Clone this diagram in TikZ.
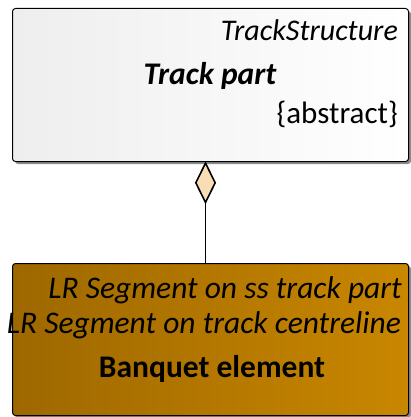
\documentclass[tikz,border=0pt]{standalone}
\usepackage{fontspec}
\setmainfont{Carlito}
\usetikzlibrary{shapes.geometric,shadows}

\definecolor{hellgrau}{HTML}{EEEEEE}
\definecolor{braundunkel}{HTML}{9E6800}
\definecolor{braunhell}{HTML}{C98700}
\definecolor{rautenfarbe}{HTML}{F9DDB4}

\tikzset{
    klasse/.style={draw, line width=1pt, rounded corners=3pt, anchor=north west, inner sep=0pt,
        drop shadow={shadow xshift=2.5pt, shadow yshift=-2.5pt, fill=black!45, opacity=1}},
    schrift/.style={anchor=base east, inner sep=0pt, font=\fontsize{31}{36}\selectfont}
}

\begin{document}
\begin{tikzpicture}[x=1pt,y=-1pt]
        \useasboundingbox (0,0) rectangle (410,417);
        \coordinate (ecke) at (12,8);
        \coordinate (eckeunten) at (12,263);

        % Klassen
        \node [klasse, left color=hellgrau, right color=white, minimum width=396pt, minimum height=153pt] (trackpart) at (ecke) {};
        \node [klasse, left color=braundunkel, right color=braunhell, minimum width=396pt, minimum height=152pt] (banquet) at (eckeunten) {};

        % Texte oben
        \node [schrift, font=\fontsize{30}{36}\selectfont\itshape] (paket) at (398,41) {TrackStructure};
        \node [schrift, anchor=base, font=\fontsize{31.5}{36}\selectfont\bfseries\itshape] (name) at (210,85) {Track part};
        \node [schrift] (abstrakt) at (398,123) {\{abstract\}};

        % Texte unten
        \node [schrift, font=\fontsize{31.5}{36}\selectfont\itshape] (lrss) at (402,298) {LR Segment on ss track part};
        \node [schrift, font=\fontsize{31.5}{36}\selectfont\itshape] (lrcl) at (401,333) {LR Segment on track centreline};
        \node [schrift, anchor=base, font=\fontsize{31.5}{36}\selectfont\bfseries] (banquetname) at (212,377) {Banquet element};

        % Aggregation
        \node [diamond, draw, line width=1.6pt, fill=rautenfarbe, minimum width=20pt, minimum height=40pt, inner sep=0pt, anchor=north] (raute) at ([xshift=-5pt]trackpart.south) {};
        \draw [line width=1.8pt] (raute.south) -- (raute.south |- banquet.north);
\end{tikzpicture}
\end{document}
